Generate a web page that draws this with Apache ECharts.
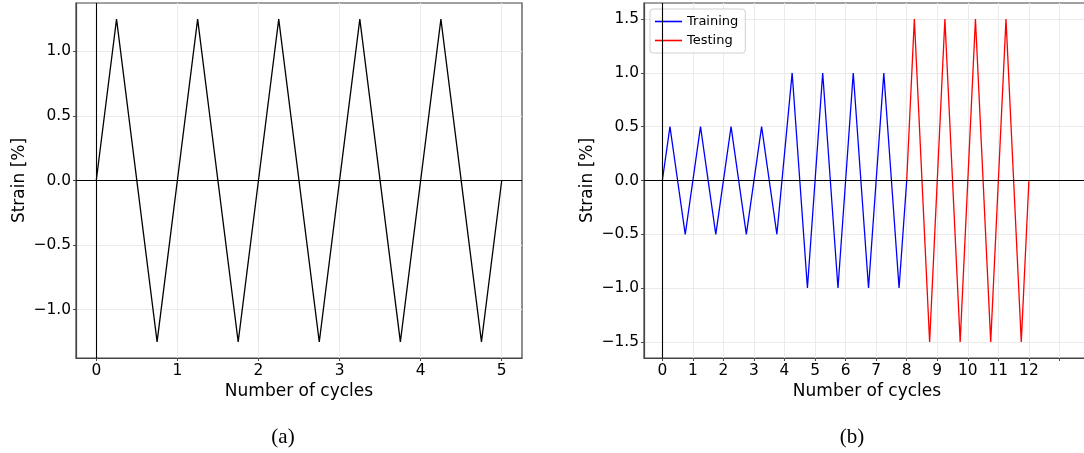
<!DOCTYPE html>
<html>
<head>
<meta charset="utf-8">
<script src="https://cdn.jsdelivr.net/npm/echarts@6/dist/echarts.min.js"></script>
<style>
html,body{margin:0;padding:0;background:#fff;}
#chart{width:1084px;height:453px;}
</style>
</head>
<body>
<div id="chart"></div>
<script>
// ---- data ----
var cyclesA = [0, 0.25, 0.75, 1.25, 1.75, 2.25, 2.75, 3.25, 3.75, 4.25, 4.75, 5];
var strainA = [0, 1.25, -1.25, 1.25, -1.25, 1.25, -1.25, 1.25, -1.25, 1.25, -1.25, 0];

var trainCycles = [0, 0.25, 0.75, 1.25, 1.75, 2.25, 2.75, 3.25, 3.75, 4.25, 4.75, 5.25, 5.75, 6.25, 6.75, 7.25, 7.75, 8];
var trainStrain = [0, 0.5, -0.5, 0.5, -0.5, 0.5, -0.5, 0.5, -0.5, 1.0, -1.0, 1.0, -1.0, 1.0, -1.0, 1.0, -1.0, 0];

var testCycles = [8, 8.25, 8.75, 9.25, 9.75, 10.25, 10.75, 11.25, 11.75, 12];
var testStrain = [0, 1.5, -1.5, 1.5, -1.5, 1.5, -1.5, 1.5, -1.5, 0];

var xTicksA = [0, 1, 2, 3, 4, 5];
var yTicksA = [-1.0, -0.5, 0.0, 0.5, 1.0];
var xTicksB = [0, 1, 2, 3, 4, 5, 6, 7, 8, 9, 10, 11, 12, 13];
var xLabelsB = [0, 1, 2, 3, 4, 5, 6, 7, 8, 9, 10, 11, 12];
var yTicksB = [-1.5, -1.0, -0.5, 0.0, 0.5, 1.0, 1.5];

function pairs(xs, ys) { return xs.map(function (x, i) { return [x, ys[i]]; }); }
function fmt1(v) { return Number(v).toFixed(1).replace('-', '\u2212'); }

var FONT = 'DejaVu Sans';
var tickFont = 15.4;
var frameColor = '#444444';
var gridColor = '#ebebeb';

function xAxisCfg(gi, min, max, ticks, labels) {
  return {
    type: 'value', gridIndex: gi, min: min, max: max,
    name: 'Number of cycles', nameLocation: 'middle', nameGap: 23,
    nameTextStyle: { fontFamily: FONT, fontSize: 17, color: '#000' },
    axisLine: { show: true, onZero: false, lineStyle: { color: frameColor, width: 1.2 } },
    axisTick: { show: true, length: 3, inside: false, customValues: ticks, lineStyle: { color: frameColor } },
    axisLabel: { customValues: labels, margin: 5, fontFamily: FONT, fontSize: tickFont, color: '#000',
      formatter: function (v) { return String(Math.round(v)); } },
    splitLine: { show: true, lineStyle: { color: gridColor, width: 1 } }
  };
}
function yAxisCfg(gi, min, max, ticks) {
  return {
    type: 'value', gridIndex: gi, min: min, max: max,
    name: 'Strain [%]', nameLocation: 'middle', nameGap: 48,
    nameTextStyle: { fontFamily: FONT, fontSize: 17, color: '#000' },
    axisLine: { show: true, onZero: false, lineStyle: { color: frameColor, width: 1.2 } },
    axisTick: { show: true, length: 3, inside: false, customValues: ticks, lineStyle: { color: frameColor } },
    axisLabel: { customValues: ticks, margin: 5, fontFamily: FONT, fontSize: tickFont, color: '#000',
      formatter: function (v) { return fmt1(v); } },
    splitLine: { show: true, lineStyle: { color: gridColor, width: 1 } }
  };
}

var zeroLines = {
  silent: true, symbol: 'none', animation: false,
  label: { show: false },
  lineStyle: { color: '#000', type: 'solid', width: 1.1 },
  data: [{ xAxis: 0 }, { yAxis: 0 }]
};

var chart = echarts.init(document.getElementById('chart'), null, { renderer: 'canvas' });
chart.setOption({
  animation: false,
  backgroundColor: '#fff',
  grid: [
    { left: 76, top: 3, width: 446, height: 355, show: true, borderColor: frameColor, borderWidth: 1.2, backgroundColor: 'transparent', containLabel: false, outerBoundsMode: 'none' },
    { left: 644, top: 3, width: 446, height: 355, show: true, borderColor: frameColor, borderWidth: 1.2, backgroundColor: 'transparent', containLabel: false, outerBoundsMode: 'none' }
  ],
  xAxis: [
    xAxisCfg(0, -0.25, 5.25, xTicksA, xTicksA),
    xAxisCfg(1, -0.6, 14, xTicksB, xLabelsB)
  ],
  yAxis: [
    yAxisCfg(0, -1.375, 1.375, yTicksA),
    yAxisCfg(1, -1.65, 1.65, yTicksB)
  ],
  legend: {
    show: true, orient: 'vertical', left: 650, top: 9,
    data: ['Training', 'Testing'],
    icon: 'rect', itemWidth: 27, itemHeight: 1.6, itemGap: 6,
    padding: [6, 7, 6, 5],
    borderColor: '#d0d0d0', borderWidth: 1, borderRadius: 3,
    backgroundColor: 'rgba(255,255,255,0.8)',
    textStyle: { fontFamily: FONT, fontSize: 13, color: '#000' }
  },
  series: [
    { name: 'A', type: 'line', xAxisIndex: 0, yAxisIndex: 0, data: pairs(cyclesA, strainA),
      showSymbol: false, symbol: 'none', lineStyle: { color: '#000', width: 1.3 }, itemStyle: { color: '#000' },
      markLine: zeroLines, z: 3 },
    { name: 'Training', type: 'line', xAxisIndex: 1, yAxisIndex: 1, data: pairs(trainCycles, trainStrain),
      showSymbol: false, symbol: 'none', lineStyle: { color: '#0000ff', width: 1.3 }, itemStyle: { color: '#0000ff' },
      markLine: zeroLines, z: 3 },
    { name: 'Testing', type: 'line', xAxisIndex: 1, yAxisIndex: 1, data: pairs(testCycles, testStrain),
      showSymbol: false, symbol: 'none', lineStyle: { color: '#ff0000', width: 1.3 }, itemStyle: { color: '#ff0000' }, z: 3 }
  ],
  graphic: [
    { type: 'text', x: 283, y: 437, style: { text: '(a)', fontFamily: 'Liberation Serif', fontSize: 21, fill: '#000', align: 'center', verticalAlign: 'middle', textAlign: 'center', textVerticalAlign: 'middle' } },
    { type: 'text', x: 852, y: 437, style: { text: '(b)', fontFamily: 'Liberation Serif', fontSize: 21, fill: '#000', align: 'center', verticalAlign: 'middle', textAlign: 'center', textVerticalAlign: 'middle' } }
  ]
});
</script>
</body>
</html>
